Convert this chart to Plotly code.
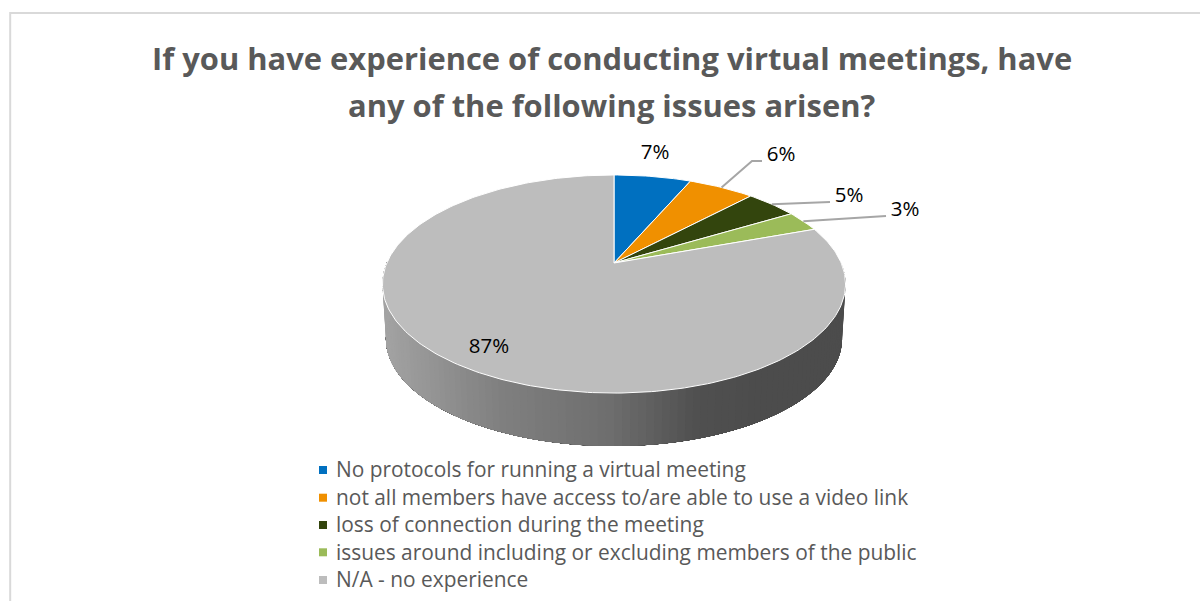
import numpy as np
import plotly.graph_objects as go

title_lines = ["If you have experience of conducting virtual meetings, have",
               "any of the following issues arisen?"]
title_y = [58, 105]
categories = [
    "No protocols for running a virtual meeting",
    "not all members have access to/are able to use a video link",
    "loss of connection during the meeting",
    "issues around including or excluding members of the public",
    "N/A - no experience",
]
values = [7, 6, 4.7, 3.3, 87]
labels = ["7%", "6%", "5%", "3%", "87%"]
colors = ["#0070C0", "#F09000", "#33450D", "#9BBB59", "#BDBDBD"]
label_x = [655, 781, 849, 905, 489]
label_y = [154, 156, 197, 211, 348]
legend_y = [470, 497.7, 525, 552.3, 580]
legend_text_y = [472, 499.7, 527, 554.3, 582]

# pie projection (tilted disc seen in perspective), in page pixels
CX, CY, A, B, K = 614.0, 263.0, 227.2, 105.0, 0.1927
DEPTH, SHRINK = 55.0, 0.985


def project(theta, dy=0.0, s=1.0):
    u, v = np.sin(theta), np.cos(theta)
    w = 1 + K * v
    return CX + s * A * u / w, CY + dy - s * B * v / w


fracs = np.array(values, dtype=float) / sum(values)
edges = np.concatenate([[0], np.cumsum(fracs)]) * 2 * np.pi


def shade(x):
    return np.interp(x, [384, 500, 614, 700, 760, 846], [163, 128, 110, 80, 76, 76])


fig = go.Figure()

# side wall: overlapping strips painted from right to left, so no seams show
start = np.pi / 2 - 0.02
end = 3 * np.pi / 2 + 0.02
for t0 in np.linspace(start, end, 110, endpoint=False):
    ts = np.linspace(t0, end, 90)
    xa, ya = project(ts)
    xb, yb = project(ts[::-1], DEPTH, SHRINK)
    g = int(round(float(shade(xa[0]))))
    c = f"rgb({g},{g},{g})"
    fig.add_trace(go.Scatter(x=[*xa, *xb, xa[0]], y=[*ya, *yb, ya[0]], mode="lines",
                             fill="toself", fillcolor=c, line=dict(color=c, width=0),
                             hoverinfo="skip", showlegend=False))

# top-face slices
for i, name in enumerate(categories):
    n = max(3, int(fracs[i] * 360))
    ts = np.linspace(edges[i], edges[i + 1], n)
    xs, ys = project(ts)
    fig.add_trace(go.Scatter(x=[CX, *xs, CX], y=[CY, *ys, CY], mode="lines", fill="toself",
                             fillcolor=colors[i], line=dict(color="#FFFFFF", width=1),
                             hoverinfo="skip", showlegend=False, name=name))

# leader lines from the slice rim to the labels
elbows = [None, [(752, 161), (762, 161)], [(830, 202)], [(886, 216)], None]
for i, pts in enumerate(elbows):
    if not pts:
        continue
    mx, my = project((edges[i] + edges[i + 1]) / 2)
    fig.add_trace(go.Scatter(x=[float(mx)] + [p[0] for p in pts],
                             y=[float(my)] + [p[1] for p in pts], mode="lines",
                             line=dict(color="#A6A6A6", width=2),
                             hoverinfo="skip", showlegend=False))

# data labels
fig.add_trace(go.Scatter(x=label_x, y=label_y, mode="text", text=labels,
                         textposition="middle center",
                         textfont=dict(family="Open Sans", size=20.5, color="#000000"),
                         hoverinfo="skip", showlegend=False))

# legend rows
fig.add_trace(go.Scatter(x=[323] * 5, y=legend_y, mode="markers",
                         marker=dict(symbol="square", size=8, color=colors),
                         hoverinfo="skip", showlegend=False))
fig.add_trace(go.Scatter(x=[336] * 5, y=legend_text_y, mode="text", text=categories,
                         textposition="middle right",
                         textfont=dict(family="Open Sans", size=20.9, color="#595959"),
                         hoverinfo="skip", showlegend=False))

fig.update_layout(
    width=1200, height=601, autosize=False,
    margin=dict(l=0, r=0, t=0, b=0),
    paper_bgcolor="#FFFFFF", plot_bgcolor="#FFFFFF",
    showlegend=False,
    xaxis=dict(range=[0, 1200], visible=False, fixedrange=True),
    yaxis=dict(range=[601, 0], visible=False, fixedrange=True),
    annotations=[dict(text=line, x=611.5, y=yy, xref="x", yref="y", showarrow=False,
                      xanchor="center", yanchor="middle",
                      font=dict(family="Open Sans", size=30.9, color="#595959", weight="bold"))
                 for line, yy in zip(title_lines, title_y)],
    shapes=[dict(type="path", xref="paper", yref="paper",
                 path="M 0.0085 0 L 0.0085 0.9783 L 1 0.9783",
                 line=dict(color="#D9D9D9", width=2))],
)

fig.write_html("out.html", config={"displayModeBar": False},
               post_script="document.body.style.margin='0';")
